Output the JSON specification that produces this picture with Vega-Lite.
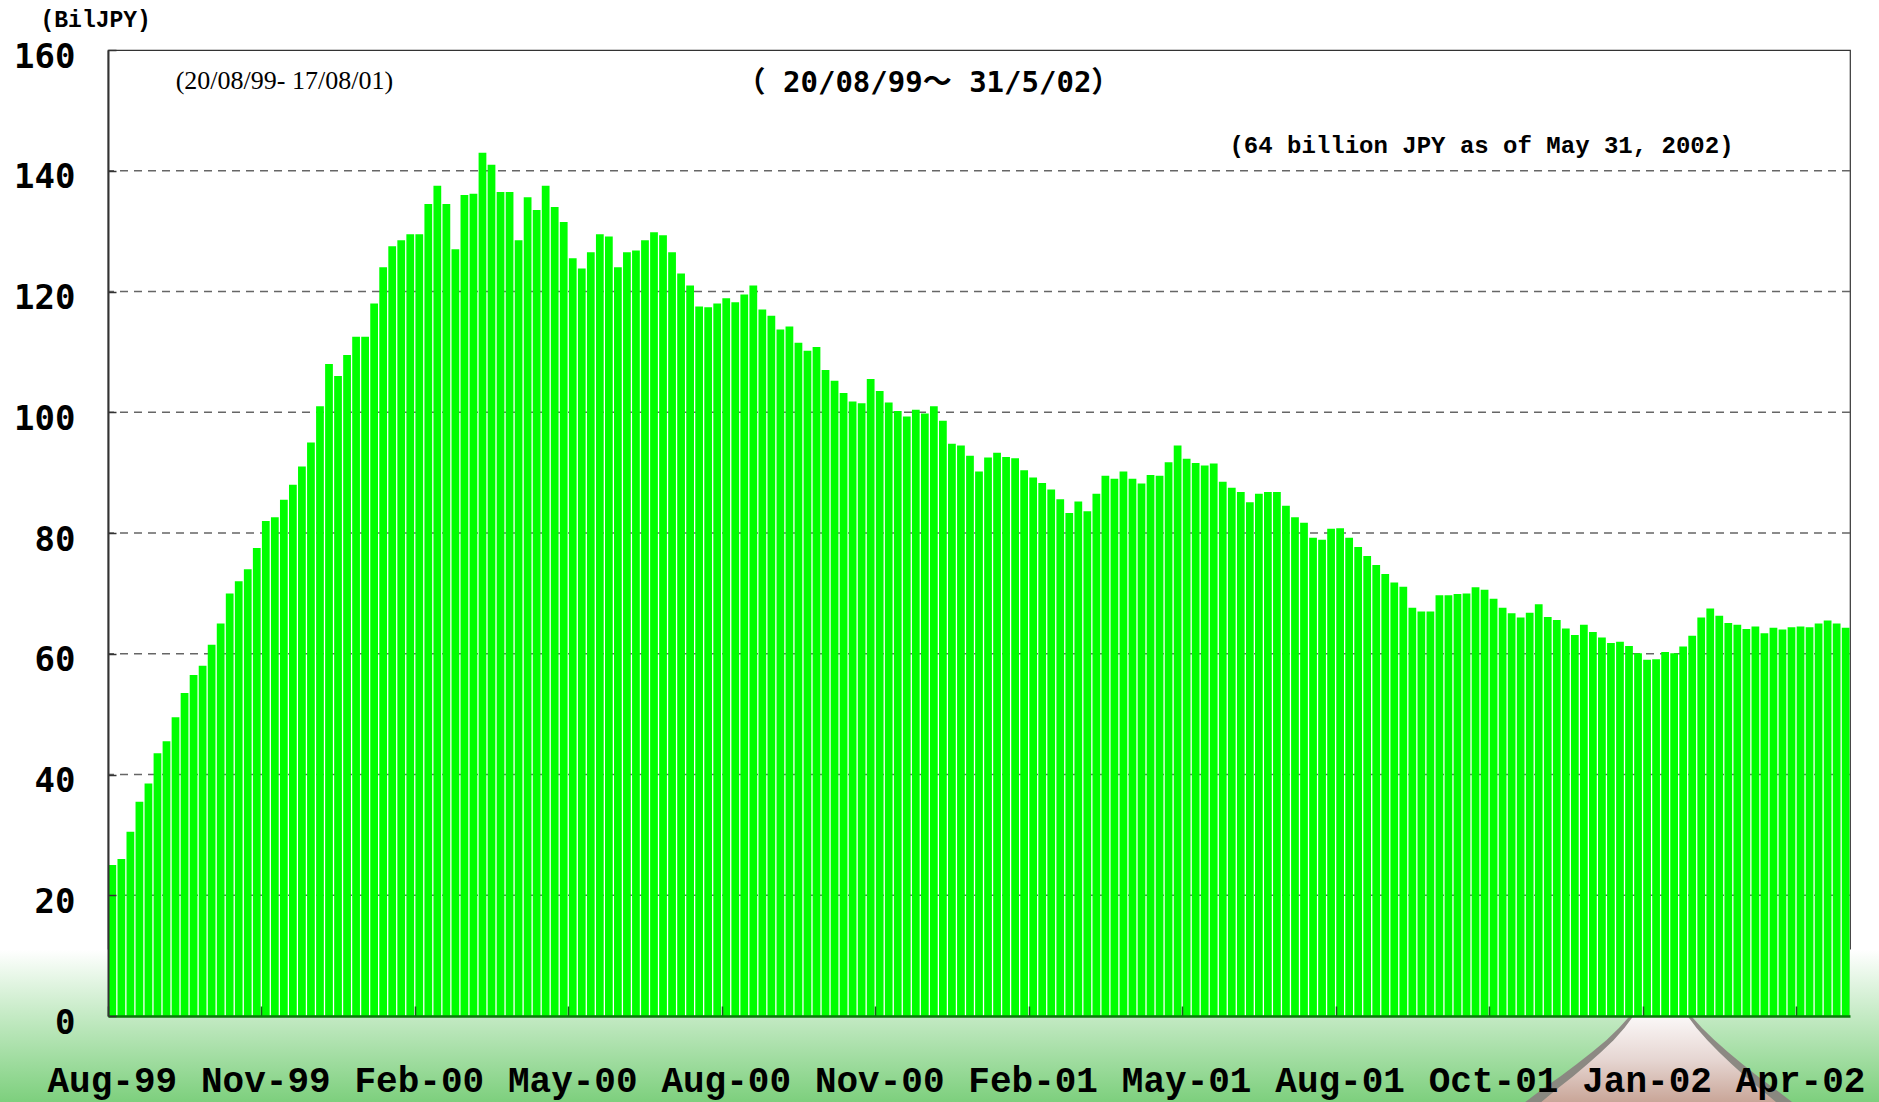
{
  "$schema": "https://vega.github.io/schema/vega-lite/v6.json",
  "width": 1742,
  "height": 966,
  "autosize": {"type": "none"},
  "padding": {"left": 108, "top": 50, "right": 29, "bottom": 86},
  "background": "white",
  "config": {"view": {"stroke": "#333", "strokeWidth": 1.2}},
  "datasets": {
    "series": [
      {"i":0,"v":25.0},{"i":1,"v":26.0},{"i":2,"v":30.5},{"i":3,"v":35.5},{"i":4,"v":38.5},{"i":5,"v":43.5},{"i":6,"v":45.5},{"i":7,"v":49.5},{"i":8,"v":53.5},{"i":9,"v":56.5},
      {"i":10,"v":58.0},{"i":11,"v":61.5},{"i":12,"v":65.0},{"i":13,"v":70.0},{"i":14,"v":72.0},{"i":15,"v":74.0},{"i":16,"v":77.5},{"i":17,"v":82.0},{"i":18,"v":82.6},{"i":19,"v":85.5},
      {"i":20,"v":88.0},{"i":21,"v":91.0},{"i":22,"v":95.0},{"i":23,"v":101.0},{"i":24,"v":108.0},{"i":25,"v":106.0},{"i":26,"v":109.5},{"i":27,"v":112.5},{"i":28,"v":112.5},{"i":29,"v":118.0},
      {"i":30,"v":124.0},{"i":31,"v":127.5},{"i":32,"v":128.5},{"i":33,"v":129.5},{"i":34,"v":129.5},{"i":35,"v":134.5},{"i":36,"v":137.5},{"i":37,"v":134.5},{"i":38,"v":127.0},{"i":39,"v":136.0},
      {"i":40,"v":136.2},{"i":41,"v":143.0},{"i":42,"v":141.0},{"i":43,"v":136.5},{"i":44,"v":136.5},{"i":45,"v":128.5},{"i":46,"v":135.6},{"i":47,"v":133.5},{"i":48,"v":137.5},{"i":49,"v":134.0},
      {"i":50,"v":131.5},{"i":51,"v":125.5},{"i":52,"v":123.8},{"i":53,"v":126.5},{"i":54,"v":129.5},{"i":55,"v":129.1},{"i":56,"v":124.0},{"i":57,"v":126.5},{"i":58,"v":126.8},{"i":59,"v":128.5},
      {"i":60,"v":129.8},{"i":61,"v":129.3},{"i":62,"v":126.5},{"i":63,"v":123.0},{"i":64,"v":121.0},{"i":65,"v":117.5},{"i":66,"v":117.4},{"i":67,"v":118.0},{"i":68,"v":118.9},{"i":69,"v":118.2},
      {"i":70,"v":119.5},{"i":71,"v":121.0},{"i":72,"v":117.0},{"i":73,"v":116.0},{"i":74,"v":113.7},{"i":75,"v":114.2},{"i":76,"v":111.5},{"i":77,"v":110.2},{"i":78,"v":110.8},{"i":79,"v":107.0},
      {"i":80,"v":105.2},{"i":81,"v":103.2},{"i":82,"v":101.8},{"i":83,"v":101.5},{"i":84,"v":105.5},{"i":85,"v":103.5},{"i":86,"v":101.6},{"i":87,"v":100.2},{"i":88,"v":99.3},{"i":89,"v":100.4},
      {"i":90,"v":99.8},{"i":91,"v":101.0},{"i":92,"v":98.6},{"i":93,"v":94.8},{"i":94,"v":94.5},{"i":95,"v":92.8},{"i":96,"v":90.2},{"i":97,"v":92.5},{"i":98,"v":93.3},{"i":99,"v":92.6},
      {"i":100,"v":92.4},{"i":101,"v":90.4},{"i":102,"v":89.2},{"i":103,"v":88.3},{"i":104,"v":87.2},{"i":105,"v":85.6},{"i":106,"v":83.3},{"i":107,"v":85.2},{"i":108,"v":83.6},{"i":109,"v":86.5},
      {"i":110,"v":89.5},{"i":111,"v":89.0},{"i":112,"v":90.2},{"i":113,"v":89.0},{"i":114,"v":88.2},{"i":115,"v":89.6},{"i":116,"v":89.5},{"i":117,"v":91.7},{"i":118,"v":94.5},{"i":119,"v":92.3},
      {"i":120,"v":91.6},{"i":121,"v":91.2},{"i":122,"v":91.5},{"i":123,"v":88.5},{"i":124,"v":87.5},{"i":125,"v":86.8},{"i":126,"v":85.1},{"i":127,"v":86.5},{"i":128,"v":86.8},{"i":129,"v":86.8},
      {"i":130,"v":84.5},{"i":131,"v":82.6},{"i":132,"v":81.7},{"i":133,"v":79.2},{"i":134,"v":78.9},{"i":135,"v":80.7},{"i":136,"v":80.8},{"i":137,"v":79.2},{"i":138,"v":77.7},{"i":139,"v":76.2},
      {"i":140,"v":74.7},{"i":141,"v":73.2},{"i":142,"v":71.8},{"i":143,"v":71.1},{"i":144,"v":67.6},{"i":145,"v":67.0},{"i":146,"v":67.0},{"i":147,"v":69.7},{"i":148,"v":69.7},{"i":149,"v":69.9},
      {"i":150,"v":70.0},{"i":151,"v":71.0},{"i":152,"v":70.6},{"i":153,"v":69.1},{"i":154,"v":67.6},{"i":155,"v":66.7},{"i":156,"v":66.0},{"i":157,"v":66.8},{"i":158,"v":68.2},{"i":159,"v":66.1},
      {"i":160,"v":65.6},{"i":161,"v":64.2},{"i":162,"v":63.1},{"i":163,"v":64.8},{"i":164,"v":63.6},{"i":165,"v":62.7},{"i":166,"v":61.8},{"i":167,"v":62.0},{"i":168,"v":61.3},{"i":169,"v":60.1},
      {"i":170,"v":59.0},{"i":171,"v":59.1},{"i":172,"v":60.3},{"i":173,"v":60.1},{"i":174,"v":61.2},{"i":175,"v":63.0},{"i":176,"v":66.0},{"i":177,"v":67.5},{"i":178,"v":66.3},{"i":179,"v":65.1},
      {"i":180,"v":64.8},{"i":181,"v":64.1},{"i":182,"v":64.5},{"i":183,"v":63.4},{"i":184,"v":64.3},{"i":185,"v":64.0},{"i":186,"v":64.4},{"i":187,"v":64.5},{"i":188,"v":64.4},{"i":189,"v":65.0},
      {"i":190,"v":65.5},{"i":191,"v":65.0},{"i":192,"v":64.3}
    ],
    "road": [
      {"ry": 0, "rx0": 169.0, "rx1": 175.0},
      {"ry": -2, "rx0": 168.0, "rx1": 176.0},
      {"ry": -4, "rx0": 166.8, "rx1": 177.2},
      {"ry": -6, "rx0": 165.4, "rx1": 178.5},
      {"ry": -8, "rx0": 163.9, "rx1": 179.9},
      {"ry": -10, "rx0": 162.3, "rx1": 181.4},
      {"ry": -12, "rx0": 160.6, "rx1": 183.0},
      {"ry": -14.5, "rx0": 158.6, "rx1": 185.0}
    ],
    "roadEdge": [
      {"ry": 0, "rx0": 168.6, "rx1": 175.4},
      {"ry": -2, "rx0": 167.4, "rx1": 176.6},
      {"ry": -4, "rx0": 166.0, "rx1": 178.0},
      {"ry": -6, "rx0": 164.4, "rx1": 179.5},
      {"ry": -8, "rx0": 162.7, "rx1": 181.1},
      {"ry": -10, "rx0": 160.9, "rx1": 182.8},
      {"ry": -12, "rx0": 159.0, "rx1": 184.6},
      {"ry": -14.5, "rx0": 156.8, "rx1": 186.8}
    ]
  },
  "resolve": {"scale": {"x": "independent"}},
  "layer": [
    {
      "data": {"values": [{"x0": -13, "x1": 0, "y0": 11, "y1": 0}, {"x0": 193, "x1": 197, "y0": 11, "y1": 0}]},
      "mark": {"type": "rect", "clip": false, "fill": {"gradient": "linear", "x1": 0, "y1": 0, "x2": 0, "y2": 1, "stops": [{"offset": 0, "color": "#ffffff"}, {"offset": 1, "color": "#c4eac4"}]}},
      "encoding": {
        "x": {"field": "x0", "type": "quantitative", "scale": {"domain": [0, 193], "nice": false, "zero": false}, "axis": null},
        "x2": {"field": "x1"},
        "y": {"field": "y0", "type": "quantitative", "scale": {"domain": [0, 160], "nice": false}},
        "y2": {"field": "y1"}
      }
    },
    {
      "data": {"values": [{"x0": -13, "x1": 197, "y0": 0, "y1": -14.5}]},
      "mark": {"type": "rect", "clip": false, "fill": {"gradient": "linear", "x1": 0, "y1": 0, "x2": 0, "y2": 1, "stops": [{"offset": 0, "color": "#c4eac4"}, {"offset": 1, "color": "#7ccf7c"}]}},
      "encoding": {
        "x": {"field": "x0", "type": "quantitative", "scale": {"domain": [0, 193], "nice": false, "zero": false}, "axis": null},
        "x2": {"field": "x1"},
        "y": {"field": "y0", "type": "quantitative", "scale": {"domain": [0, 160], "nice": false}},
        "y2": {"field": "y1"}
      }
    },
    {
      "data": {"name": "roadEdge"},
      "mark": {"type": "area", "orient": "horizontal", "clip": false, "fill": "#8a8080", "opacity": 0.9},
      "encoding": {
        "x": {"field": "rx0", "type": "quantitative", "scale": {"domain": [0, 193], "nice": false, "zero": false}, "axis": null},
        "x2": {"field": "rx1"},
        "y": {"field": "ry", "type": "quantitative", "scale": {"domain": [0, 160], "nice": false}}
      }
    },
    {
      "data": {"name": "road"},
      "mark": {"type": "area", "orient": "horizontal", "clip": false, "fill": {"gradient": "linear", "x1": 0, "y1": 0, "x2": 0, "y2": 1, "stops": [{"offset": 0, "color": "#fbf8f8"}, {"offset": 0.5, "color": "#e6d6d2"}, {"offset": 1, "color": "#c8a496"}]}},
      "encoding": {
        "x": {"field": "rx0", "type": "quantitative", "scale": {"domain": [0, 193], "nice": false, "zero": false}, "axis": null},
        "x2": {"field": "rx1"},
        "y": {"field": "ry", "type": "quantitative", "scale": {"domain": [0, 160], "nice": false}}
      }
    },
    {
      "data": {"values": [{"g": 20}, {"g": 40}, {"g": 60}, {"g": 80}, {"g": 100}, {"g": 120}, {"g": 140}]},
      "mark": {"type": "rule", "color": "#666", "strokeWidth": 1.3, "strokeDash": [8, 6]},
      "encoding": {
        "y": {"field": "g", "type": "quantitative", "scale": {"domain": [0, 160], "nice": false}}
      }
    },
    {
      "data": {"name": "series"},
      "mark": {"type": "bar", "fill": "#00ff00", "strokeWidth": 0},
      "encoding": {
        "x": {
          "field": "i", "type": "ordinal",
          "scale": {"paddingInner": 0.14, "paddingOuter": 0.05},
          "axis": {
            "values": [0, 17, 34, 51, 68, 85, 102, 119, 136, 153, 170, 187],
            "bandPosition": 0,
            "labelExpr": "['Aug-99','Nov-99','Feb-00','May-00','Aug-00','Nov-00','Feb-01','May-01','Aug-01','Oct-01','Jan-02','Apr-02'][round(datum.value/17)]",
            "labelFont": "Liberation Mono", "labelFontWeight": "bold", "labelFontSize": 36, "labelColor": "#000",
            "labelAngle": 0, "labelAlign": "center", "labelBaseline": "alphabetic", "labelPadding": 85,
            "labelOverlap": false, "labelFlush": false,
            "ticks": true, "tickSize": -10, "tickColor": "#1a5a1a", "tickWidth": 1.5,
            "domainColor": "#0a7a0a", "domainWidth": 2.5,
            "title": null, "grid": false, "zindex": 1
          }
        },
        "y": {
          "field": "v", "type": "quantitative",
          "scale": {"domain": [0, 160], "nice": false},
          "axis": {
            "values": [0, 20, 40, 60, 80, 100, 120, 140, 160],
            "grid": false,
            "domainColor": "#333", "domainWidth": 2,
            "ticks": true, "tickSize": -8, "tickColor": "#333", "tickWidth": 1.5,
            "labelFont": "DejaVu Sans Mono", "labelFontWeight": "bold", "labelFontSize": 34, "labelColor": "#000",
            "labelPadding": 41, "labelOffset": 7, "labelFlush": false,
            "title": "(BilJPY)", "titleFont": "Liberation Mono", "titleFontWeight": "bold", "titleFontSize": 23,
            "titleColor": "#000", "titleAngle": 0, "titleAlign": "left", "titleBaseline": "alphabetic",
            "titleX": -68, "titleY": -24, "zindex": 1
          }
        }
      }
    },
    {
      "data": {"values": [{"ax": 7.5, "ay": 153.5, "t": "(20/08/99- 17/08/01)"}]},
      "mark": {"type": "text", "font": "Liberation Serif", "fontSize": 26, "align": "left", "baseline": "alphabetic", "color": "#000"},
      "encoding": {
        "x": {"field": "ax", "type": "quantitative", "scale": {"domain": [0, 193], "nice": false, "zero": false}, "axis": null},
        "y": {"field": "ay", "type": "quantitative", "scale": {"domain": [0, 160], "nice": false}},
        "text": {"field": "t"}
      }
    },
    {
      "data": {"values": [{"ax": 90.9, "ay": 153.0, "t": "（ 20/08/99～ 31/5/02）"}]},
      "mark": {"type": "text", "font": "DejaVu Sans Mono, Noto Sans CJK JP", "fontWeight": "bold", "fontSize": 29, "align": "center", "baseline": "alphabetic", "color": "#000"},
      "encoding": {
        "x": {"field": "ax", "type": "quantitative", "scale": {"domain": [0, 193], "nice": false, "zero": false}, "axis": null},
        "y": {"field": "ay", "type": "quantitative", "scale": {"domain": [0, 160], "nice": false}},
        "text": {"field": "t"}
      }
    },
    {
      "data": {"values": [{"ax": 124.25, "ay": 143.0, "t": "(64 billion JPY as of May 31, 2002)"}]},
      "mark": {"type": "text", "font": "Liberation Mono", "fontWeight": "bold", "fontSize": 24, "align": "left", "baseline": "alphabetic", "color": "#000"},
      "encoding": {
        "x": {"field": "ax", "type": "quantitative", "scale": {"domain": [0, 193], "nice": false, "zero": false}, "axis": null},
        "y": {"field": "ay", "type": "quantitative", "scale": {"domain": [0, 160], "nice": false}},
        "text": {"field": "t"}
      }
    }
  ]
}
